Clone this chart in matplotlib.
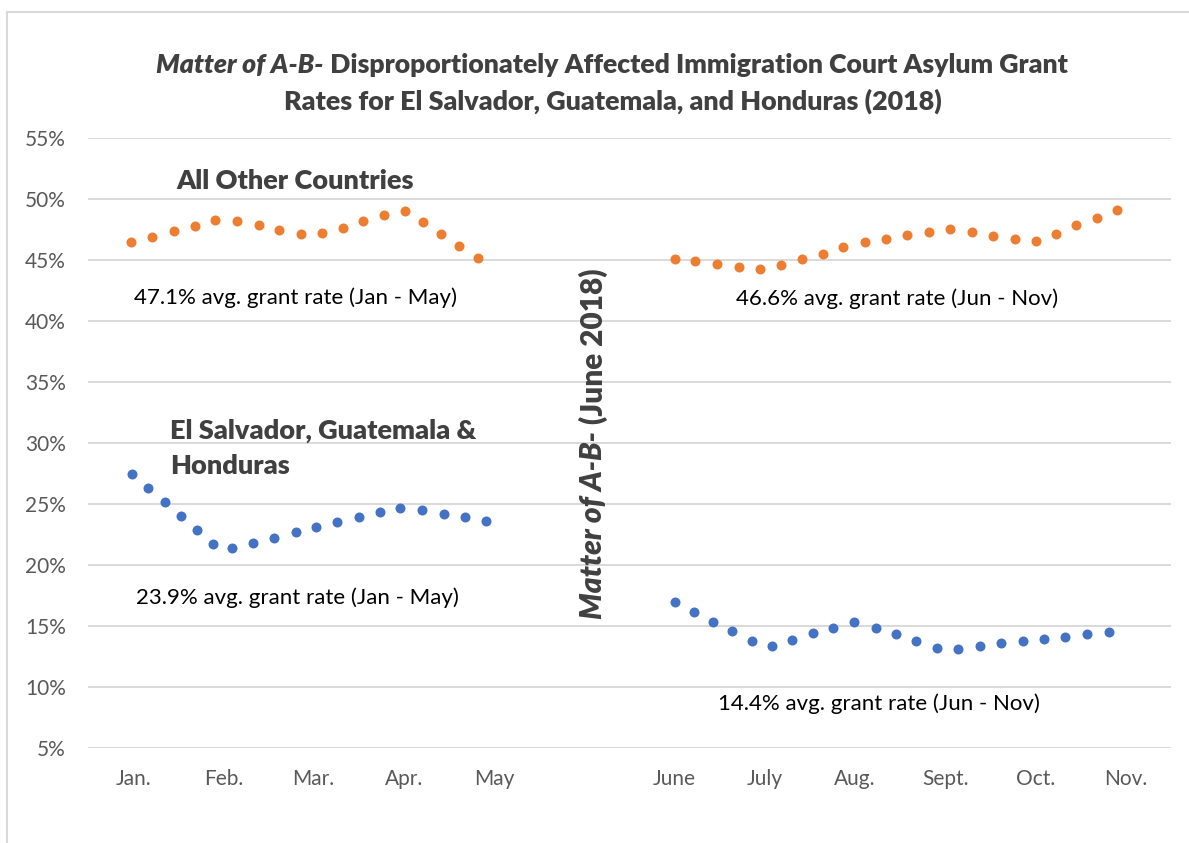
import matplotlib
matplotlib.use("Agg")
import matplotlib.pyplot as plt
from matplotlib.lines import Line2D

plt.rcParams['font.family'] = ['Lato', 'DejaVu Sans']

# x positions in month units (Jan. = 0 ... May = 4, June = 6 ... Nov. = 11)
month_labels = ["Jan.", "Feb.", "Mar.", "Apr.", "May", "", "June", "July", "Aug.", "Sept.", "Oct.", "Nov."]

other_x1 = [-0.02, 0.21, 0.45, 0.69, 0.91, 1.15, 1.39, 1.62, 1.86, 2.09, 2.32, 2.55, 2.78, 3.01, 3.21, 3.41, 3.61, 3.82]
other_y1 = [46.5, 46.92, 47.38, 47.8, 48.25, 48.17, 47.83, 47.5, 47.17, 47.19, 47.63, 48.17, 48.67, 49.05, 48.1, 47.13, 46.17, 45.19]

other_x2 = [6.00, 6.23, 6.47, 6.71, 6.95, 7.18, 7.41, 7.64, 7.87, 8.11, 8.34, 8.58, 8.82, 9.05, 9.29, 9.53, 9.77, 10.00, 10.23, 10.45, 10.68, 10.90]
other_y2 = [45.11, 44.92, 44.69, 44.44, 44.25, 44.55, 45.05, 45.53, 46.03, 46.44, 46.72, 47.03, 47.33, 47.53, 47.28, 47.0, 46.75, 46.53, 47.17, 47.83, 48.47, 49.13]

ngh_x1 = [-0.01, 0.17, 0.35, 0.53, 0.71, 0.89, 1.10, 1.33, 1.56, 1.80, 2.03, 2.26, 2.50, 2.73, 2.96, 3.20, 3.44, 3.68, 3.91]
ngh_y1 = [27.49, 26.33, 25.16, 24.05, 22.88, 21.71, 21.36, 21.79, 22.25, 22.72, 23.13, 23.56, 23.91, 24.32, 24.70, 24.48, 24.18, 23.91, 23.61]

ngh_x2 = [6.00, 6.21, 6.43, 6.64, 6.86, 7.08, 7.30, 7.53, 7.76, 7.99, 8.23, 8.45, 8.68, 8.91, 9.14, 9.38, 9.62, 9.86, 10.09, 10.33, 10.57, 10.81]
ngh_y2 = [16.93, 16.13, 15.36, 14.56, 13.73, 13.34, 13.87, 14.40, 14.86, 15.36, 14.86, 14.31, 13.78, 13.23, 13.12, 13.34, 13.59, 13.78, 13.95, 14.11, 14.31, 14.48]

orange = '#ED7D31'
blue = '#4472C4'
grid_c = '#D9D9D9'
txt_c = '#404040'
BOLD = 'heavy'

W, H = 1189, 843
fig = plt.figure(figsize=(W / 100, H / 100), dpi=100)
fig.patch.set_facecolor('white')
ax = fig.add_axes([88 / W, 1 - 748 / H, (1171 - 88) / W, (748 - 138) / H])

for xs, ys, c in [(other_x1, other_y1, orange), (other_x2, other_y2, orange),
                  (ngh_x1, ngh_y1, blue), (ngh_x2, ngh_y2, blue)]:
    ax.plot(xs, ys, 'o', color=c, markersize=7.2, markeredgewidth=0, zorder=3)

ax.set_xlim(-0.5, 11.5)
ax.set_ylim(5, 55)
ax.set_yticks(range(5, 56, 5))
ax.set_yticklabels(['%d%%' % v for v in range(5, 56, 5)])
ax.set_xticks(range(len(month_labels)))
ax.set_xticklabels(month_labels)
ax.tick_params(axis='y', length=0, pad=16, labelsize=15, labelcolor='#595959')
ax.tick_params(axis='x', length=0, pad=15, labelsize=15, labelcolor='#595959')
ax.grid(axis='y', color=grid_c, linewidth=1.4)
ax.set_axisbelow(True)
for s in ax.spines.values():
    s.set_visible(False)

# chart border (only top and left visible in the crop)
fig.add_artist(Line2D([7 / W, 1], [1 - 12 / H, 1 - 12 / H], color=grid_c, lw=1.5, transform=fig.transFigure))
fig.add_artist(Line2D([7 / W, 7 / W], [0, 1 - 12 / H], color=grid_c, lw=1.5, transform=fig.transFigure))

# text labels in the plot
ax.text(1.79, 51.5, "All Other Countries", ha='center', va='center', fontsize=19.5, weight=BOLD, color=txt_c)
ax.text(0.41, 31.0, "El Salvador, Guatemala &", ha='left', va='center', fontsize=19.5, weight=BOLD, color=txt_c)
ax.text(0.41, 28.1, "Honduras", ha='left', va='center', fontsize=19.5, weight=BOLD, color=txt_c)
ax.text(1.80, 41.9, "47.1% avg. grant rate (Jan - May)", ha='center', va='center', fontsize=16, color='black')
ax.text(8.46, 41.8, "46.6% avg. grant rate (Jun - Nov)", ha='center', va='center', fontsize=16, color='black')
ax.text(1.82, 17.35, "23.9% avg. grant rate (Jan - May)", ha='center', va='center', fontsize=16, color='black')
ax.text(8.26, 8.65, "14.4% avg. grant rate (Jun - Nov)", ha='center', va='center', fontsize=16, color='black')

renderer = fig.canvas.get_renderer()


def mixed_line(parts, cx, cy, size, rotation=0):
    # parts: list of (text, style); laid out one after another, centred on cx (pixels)
    objs = []
    for s, style in parts:
        t = fig.text(0, 0, s, fontsize=size, weight=BOLD, style=style, color=txt_c,
                     rotation=rotation, ha='left' if rotation == 0 else 'center',
                     va='baseline' if rotation == 0 else 'center', transform=None)
        objs.append(t)
    sizes = []
    for t in objs:
        bb = t.get_window_extent(renderer)
        sizes.append(bb.width if rotation == 0 else bb.height)
    total = sum(sizes)
    pos = -total / 2
    for t, w in zip(objs, sizes):
        if rotation == 0:
            t.set_position((cx + pos, H - cy))
        else:
            # reads bottom to top
            t.set_position((cx, H - (cy - pos - w / 2)))
        pos += w
    return objs


mixed_line([("Matter of A-B-", 'italic'), (" Disproportionately Affected Immigration Court Asylum Grant", 'normal')],
           612, 73, 19.2)
mixed_line([("Rates for El Salvador, Guatemala, and Honduras (2018)", 'normal')], 613, 110, 19.4)
mixed_line([("Matter of A-B-", 'italic'), (" (June 2018)", 'normal')], 593, 444, 21.5, rotation=90)

fig.savefig('out.png', dpi=100)
plt.close(fig)
